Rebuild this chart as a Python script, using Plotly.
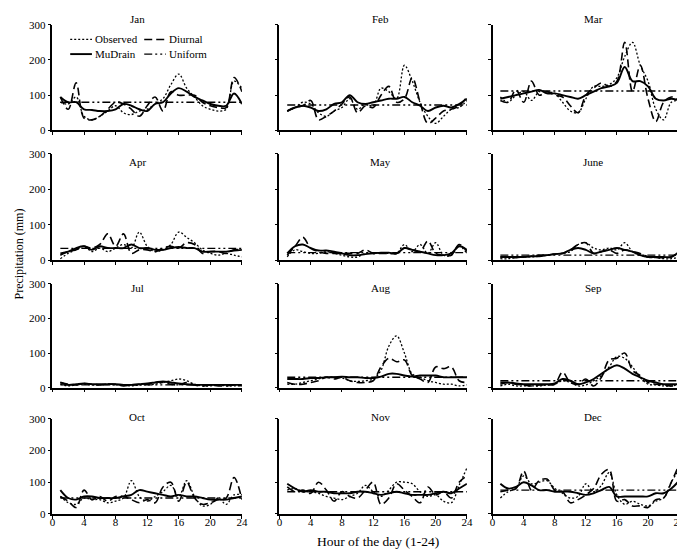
import plotly.graph_objects as go

hours = list(range(1, 25))
months = ["Jan", "Feb", "Mar", "Apr", "May", "June", "Jul", "Aug", "Sep", "Oct", "Nov", "Dec"]

observed = {
    "Jan": [80, 75, 95, 40, 30, 40, 55, 70, 50, 45, 55, 60, 75, 90, 130, 160, 120, 95, 70, 60, 55, 60, 140, 120],
    "Feb": [55, 65, 80, 75, 50, 40, 55, 65, 90, 60, 75, 70, 120, 110, 90, 185, 140, 80, 40, 20, 40, 60, 65, 85],
    "Mar": [95, 80, 100, 110, 85, 110, 110, 105, 80, 55, 50, 90, 125, 125, 130, 150, 210, 250, 185, 140, 60, 30, 80, 85],
    "Apr": [5, 20, 30, 40, 25, 35, 25, 35, 45, 35, 80, 40, 25, 30, 45, 80, 65, 50, 30, 20, 15, 20, 15, 10],
    "May": [10, 30, 25, 20, 20, 25, 20, 15, 10, 10, 20, 20, 20, 20, 20, 45, 25, 45, 20, 50, 15, 15, 40, 20],
    "June": [5, 5, 8, 10, 10, 12, 15, 18, 20, 25, 45, 50, 35, 30, 35, 30, 50, 25, 15, 10, 8, 5, 5, 10],
    "Jul": [10, 5, 8, 10, 8, 8, 10, 8, 8, 5, 8, 8, 10, 15, 20, 25, 20, 10, 5, 5, 8, 5, 5, 5],
    "Aug": [10, 10, 15, 20, 25, 30, 30, 28, 20, 18, 20, 25, 50, 120, 150, 100, 40, 30, 20, 15, 10, 10, 5, 8],
    "Sep": [5, 10, 5, 5, 5, 5, 8, 10, 20, 15, 5, 8, 20, 35, 60, 90, 85, 60, 30, 10, 8, 5, 5, 10],
    "Oct": [55, 35, 30, 50, 45, 45, 35, 40, 50, 105, 55, 40, 55, 70, 90, 55, 105, 55, 25, 30, 50, 30, 60, 60],
    "Nov": [75, 80, 70, 70, 65, 55, 50, 45, 55, 65, 90, 70, 55, 75, 100, 100, 95, 70, 55, 60, 40, 35, 90, 145],
    "Dec": [50, 70, 80, 120, 95, 100, 105, 80, 65, 50, 55, 95, 70, 90, 130, 60, 30, 40, 30, 25, 40, 50, 100, 140],
}

diurnal = {
    "Jan": [95, 60, 135, 35, 30, 40, 60, 80, 75, 60, 40, 70, 95, 55, 110, 100, 100, 100, 80, 70, 65, 65, 150, 110],
    "Feb": [55, 65, 70, 85, 30, 40, 55, 75, 95, 50, 70, 65, 100, 125, 80, 90, 150, 80, 20, 35, 55, 60, 70, 95],
    "Mar": [85, 80, 115, 80, 140, 100, 110, 100, 95, 70, 50, 100, 120, 135, 125, 140, 250, 110, 185, 90, 25, 80, 95, 85],
    "Apr": [15, 25, 30, 40, 35, 45, 75, 40, 75, 20, 30, 30, 25, 35, 40, 35, 50, 45, 20, 25, 25, 20, 30, 30],
    "May": [15, 40, 65, 35, 25, 20, 20, 20, 20, 20, 30, 20, 20, 20, 20, 35, 30, 25, 55, 20, 15, 15, 45, 25],
    "June": [10, 10, 8, 10, 12, 15, 15, 18, 20, 30, 45, 50, 20, 25, 30, 20, 30, 25, 20, 10, 8, 8, 10, 25],
    "Jul": [15, 10, 8, 12, 10, 8, 10, 10, 5, 8, 10, 10, 15, 15, 10, 8, 15, 8, 5, 8, 5, 5, 8, 5],
    "Aug": [15, 10, 10, 15, 20, 30, 25, 30, 20, 15, 15, 20, 60, 85, 75, 80, 35, 25, 15, 60, 55, 60, 20, 15],
    "Sep": [10, 15, 10, 8, 5, 8, 8, 10, 45, 15, 10, 25, 5, 30, 80, 85, 100, 50, 35, 15, 10, 8, 5, 8],
    "Oct": [55, 40, 20, 75, 45, 55, 40, 55, 55, 45, 35, 45, 35, 85, 100, 40, 100, 50, 30, 35, 45, 50, 115, 45],
    "Nov": [85, 70, 75, 65, 100, 75, 40, 70, 55, 50, 75, 100, 30, 50, 95, 75, 55, 35, 85, 60, 70, 50, 100, 120],
    "Dec": [70, 75, 80, 135, 75, 105, 110, 75, 70, 35, 45, 60, 80, 125, 140, 40, 45, 25, 25, 20, 45, 50, 100, 155],
}

mudrain = {
    "Jan": [95, 80, 80, 60, 58, 55, 55, 60, 75, 70, 60, 55, 75, 80, 105, 120, 110, 95, 85, 75, 70, 70, 105, 75],
    "Feb": [55, 65, 70, 65, 55, 60, 75, 80, 100, 80, 75, 80, 85, 90, 90, 95, 80, 70, 55, 65, 70, 65, 75, 90],
    "Mar": [90, 95, 100, 105, 110, 115, 105, 105, 100, 95, 90, 100, 110, 120, 125, 135, 180, 140, 140, 125, 90, 85, 90, 85],
    "Apr": [20, 25, 35, 40, 30, 40, 35, 35, 35, 45, 35, 35, 30, 30, 35, 38, 35, 35, 25, 25, 25, 25, 28, 30],
    "May": [20, 40, 45, 35, 28, 28, 25, 20, 15, 15, 18, 20, 22, 22, 20, 35, 30, 25, 20, 15, 15, 20, 40, 30],
    "June": [10, 10, 10, 10, 12, 12, 15, 18, 20, 30, 35, 30, 20, 25, 30, 35, 30, 25, 15, 10, 10, 10, 10, 25],
    "Jul": [15, 8, 10, 12, 10, 10, 10, 10, 8, 8, 10, 12, 15, 18, 15, 12, 10, 8, 8, 8, 8, 8, 8, 8],
    "Aug": [25, 25, 25, 28, 28, 30, 30, 32, 30, 30, 28, 28, 32, 40, 40, 35, 32, 35, 35, 35, 30, 30, 30, 30],
    "Sep": [15, 15, 12, 10, 10, 10, 10, 12, 25, 20, 10, 15, 25, 40, 55, 65, 55, 40, 30, 20, 15, 10, 10, 10],
    "Oct": [75, 50, 45, 55, 55, 50, 50, 50, 55, 60, 75, 70, 65, 60, 55, 60, 55, 55, 50, 45, 45, 45, 50, 55],
    "Nov": [95, 80, 70, 75, 70, 70, 65, 65, 65, 70, 70, 65, 60, 65, 70, 65, 60, 60, 60, 65, 70, 65, 80, 95],
    "Dec": [95, 80, 85, 100, 90, 75, 75, 70, 70, 70, 65, 60, 65, 75, 85, 55, 55, 55, 55, 55, 65, 65, 80, 105],
}

uniform_level = {
    "Jan": 80, "Feb": 72, "Mar": 112, "Apr": 34, "May": 22, "June": 15,
    "Jul": 8, "Aug": 30, "Sep": 20, "Oct": 50, "Nov": 70, "Dec": 75,
}

series_names = ["Observed", "Diurnal", "MuDrain", "Uniform"]
y_ticks = [0, 100, 200, 300]
x_ticks = [0, 4, 8, 12, 16, 20, 24]

W, H = 685, 549
FONT = "Liberation Serif"

# panel pixel boxes
col_px = [(42, 234), (272, 462), (488, 677)]
row_px = [(11, 119), (143, 252), (276, 382), (414, 511)]
title_y_px = [5, 151, 280, 412]
title_x_px = [128, 374, 590]

styles = {
    "Observed": dict(color="black", width=1.3, dash="2px,2px"),
    "Diurnal": dict(color="black", width=1.6, dash="8px,4px"),
    "MuDrain": dict(color="black", width=1.9, dash="solid"),
    "Uniform": dict(color="black", width=1.4, dash="8px,3px,2px,3px,2px,3px"),
}
source = {"Observed": observed, "Diurnal": diurnal, "MuDrain": mudrain, "Uniform": None}

fig = go.Figure()
annotations = []
shapes = []
layout_axes = {}

for i, m in enumerate(months):
    r, c = divmod(i, 3)
    idx = i + 1
    xs = "" if idx == 1 else str(idx)
    for name in series_names:
        data = source[name]
        yvals = data[m] if data is not None else [uniform_level[m]] * len(hours)
        fig.add_trace(go.Scatter(
            x=hours, y=yvals, mode="lines", name=name,
            line=dict(shape="spline", smoothing=1.0, **styles[name]),
            xaxis="x" + xs, yaxis="y" + xs, showlegend=False,
        ))
    x0, x1 = col_px[c]
    y0, y1 = row_px[r]
    layout_axes["xaxis" + xs] = dict(
        domain=[x0 / W, x1 / W], anchor="y" + xs, range=[0, 24],
        tickvals=x_ticks, ticktext=[str(t) for t in x_ticks], showticklabels=(r == 3),
        ticks="outside", ticklen=3, tickwidth=1.2, tickcolor="black",
        showline=True, linecolor="black", linewidth=1.5, showgrid=False, zeroline=False,
        tickfont=dict(family=FONT, size=11, color="black"), ticklabelstandoff=-6,
    )
    layout_axes["yaxis" + xs] = dict(
        domain=[1 - y1 / H, 1 - y0 / H], anchor="x" + xs, range=[0, 300],
        tickvals=y_ticks, ticktext=[str(t) for t in y_ticks], showticklabels=(c == 0),
        ticks="outside", ticklen=3, tickwidth=1.2, tickcolor="black",
        showline=True, linecolor="black", linewidth=1.5, showgrid=False, zeroline=False,
        tickfont=dict(family=FONT, size=11, color="black"),
    )
    annotations.append(dict(
        text=m, x=title_x_px[c] / W, y=1 - title_y_px[r] / H, xref="paper", yref="paper",
        xanchor="center", yanchor="middle", showarrow=False,
        font=dict(family=FONT, size=11, color="black"),
    ))

# legend (two columns) inside the Jan panel
legend_pos = {
    "Observed": (60, 26), "Diurnal": (135, 26),
    "MuDrain": (60, 41), "Uniform": (135, 41),
}
for name in series_names:
    lx, ly = legend_pos[name]
    st = styles[name]
    shapes.append(dict(
        type="line", xref="paper", yref="paper",
        x0=lx / W, x1=(lx + 22) / W, y0=1 - ly / H, y1=1 - ly / H,
        line=dict(color=st["color"], width=st["width"], dash=st["dash"]),
    ))
    annotations.append(dict(
        text=name, x=(lx + 23) / W, y=1 - ly / H, xref="paper", yref="paper",
        xanchor="left", yanchor="middle", showarrow=False,
        font=dict(family=FONT, size=11, color="black"),
    ))

annotations.append(dict(
    text="Precipitation (mm)", x=8 / W, y=1 - 245 / H, xref="paper", yref="paper",
    textangle=-90, showarrow=False, xanchor="center", yanchor="middle",
    font=dict(family=FONT, size=12, color="black"),
))
annotations.append(dict(
    text="Hour of the day (1-24)", x=372 / W, y=1 - 539 / H, xref="paper", yref="paper",
    showarrow=False, xanchor="center", yanchor="middle",
    font=dict(family=FONT, size=13.5, color="black"),
))

fig.update_layout(
    width=W, height=H,
    margin=dict(l=0, r=0, t=0, b=0),
    paper_bgcolor="white", plot_bgcolor="white",
    font=dict(family=FONT, size=12, color="black"),
    annotations=annotations, shapes=shapes, showlegend=False,
    **layout_axes,
)

fig.write_html("out.html")
